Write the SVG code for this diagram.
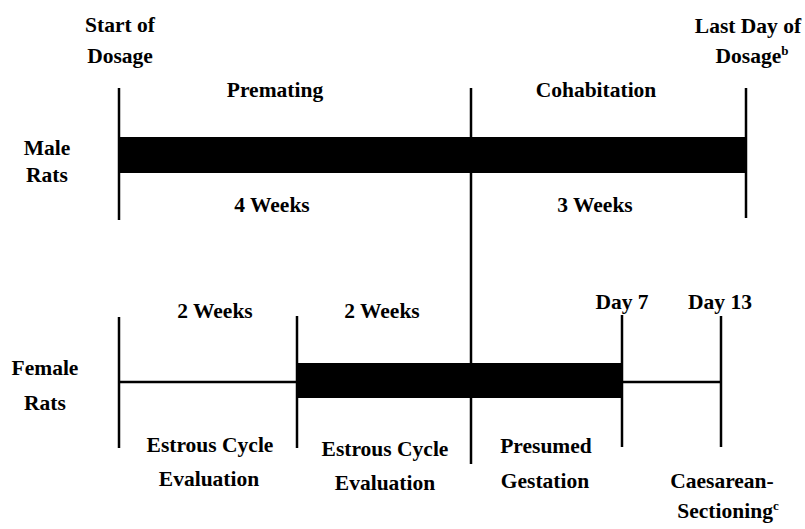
<svg xmlns="http://www.w3.org/2000/svg" width="805" height="529" viewBox="0 0 805 529">
<rect width="805" height="529" fill="#fff"/>
<g id="connectors" stroke="#000" stroke-width="2.5" fill="none">
<line x1="119" y1="88" x2="119" y2="220"/>
<line x1="746" y1="88" x2="746" y2="218"/>
<line x1="471" y1="88" x2="471" y2="464"/>
<line x1="119" y1="317" x2="119" y2="448"/>
<line x1="297" y1="316" x2="297" y2="448"/>
<line x1="622" y1="315" x2="622" y2="447"/>
<line x1="721" y1="316" x2="721" y2="447"/>
<line x1="119" y1="382" x2="297" y2="382"/>
<line x1="622" y1="382" x2="721" y2="382"/>
</g>
<g id="male-bar"><rect fill="#000" x="119" y="137" width="627" height="36"/></g>
<g id="female-bar"><rect fill="#000" x="297" y="363" width="325" height="35"/></g>
<g id="start-label"><text font-family="Liberation Serif, serif" font-weight="bold" font-size="21.5" text-anchor="middle" x="120" y="32">Start of</text><text font-family="Liberation Serif, serif" font-weight="bold" font-size="21.5" text-anchor="middle" x="120" y="63">Dosage</text></g>
<g id="last-label"><text font-family="Liberation Serif, serif" font-weight="bold" font-size="21.5" text-anchor="middle" x="748" y="33">Last Day of</text><text font-family="Liberation Serif, serif" font-weight="bold" font-size="21.5" text-anchor="middle" x="752" y="63">Dosage<tspan font-size="13" dy="-8">b</tspan></text></g>
<g id="premating"><text font-family="Liberation Serif, serif" font-weight="bold" font-size="21.5" text-anchor="middle" x="275" y="97">Premating</text></g>
<g id="cohabitation"><text font-family="Liberation Serif, serif" font-weight="bold" font-size="21.5" text-anchor="middle" x="596" y="97">Cohabitation</text></g>
<g id="male-rats"><text font-family="Liberation Serif, serif" font-weight="bold" font-size="21.5" text-anchor="middle" x="47" y="155">Male</text><text font-family="Liberation Serif, serif" font-weight="bold" font-size="21.5" text-anchor="middle" x="47" y="182">Rats</text></g>
<g id="weeks4"><text font-family="Liberation Serif, serif" font-weight="bold" font-size="21.5" text-anchor="middle" x="272" y="212">4 Weeks</text></g>
<g id="weeks3"><text font-family="Liberation Serif, serif" font-weight="bold" font-size="21.5" text-anchor="middle" x="595" y="212">3 Weeks</text></g>
<g id="female-rats"><text font-family="Liberation Serif, serif" font-weight="bold" font-size="21.5" text-anchor="middle" x="45" y="375">Female</text><text font-family="Liberation Serif, serif" font-weight="bold" font-size="21.5" text-anchor="middle" x="45" y="410">Rats</text></g>
<g id="weeks2a"><text font-family="Liberation Serif, serif" font-weight="bold" font-size="21.5" text-anchor="middle" x="215" y="318">2 Weeks</text></g>
<g id="weeks2b"><text font-family="Liberation Serif, serif" font-weight="bold" font-size="21.5" text-anchor="middle" x="382" y="318">2 Weeks</text></g>
<g id="day7"><text font-family="Liberation Serif, serif" font-weight="bold" font-size="21.5" text-anchor="middle" x="622" y="309">Day 7</text></g>
<g id="day13"><text font-family="Liberation Serif, serif" font-weight="bold" font-size="21.5" text-anchor="middle" x="720" y="309">Day 13</text></g>
<g id="estrous1"><text font-family="Liberation Serif, serif" font-weight="bold" font-size="21.5" text-anchor="middle" x="210" y="452">Estrous Cycle</text><text font-family="Liberation Serif, serif" font-weight="bold" font-size="21.5" text-anchor="middle" x="209" y="486">Evaluation</text></g>
<g id="estrous2"><text font-family="Liberation Serif, serif" font-weight="bold" font-size="21.5" text-anchor="middle" x="385" y="456">Estrous Cycle</text><text font-family="Liberation Serif, serif" font-weight="bold" font-size="21.5" text-anchor="middle" x="385" y="490">Evaluation</text></g>
<g id="gestation"><text font-family="Liberation Serif, serif" font-weight="bold" font-size="21.5" text-anchor="middle" x="546" y="453">Presumed</text><text font-family="Liberation Serif, serif" font-weight="bold" font-size="21.5" text-anchor="middle" x="545" y="488">Gestation</text></g>
<g id="caesarean"><text font-family="Liberation Serif, serif" font-weight="bold" font-size="21.5" text-anchor="middle" x="722" y="488">Caesarean-</text><text font-family="Liberation Serif, serif" font-weight="bold" font-size="21.5" text-anchor="middle" x="728" y="518">Sectioning<tspan font-size="13" dy="-8">c</tspan></text></g>
</svg>
